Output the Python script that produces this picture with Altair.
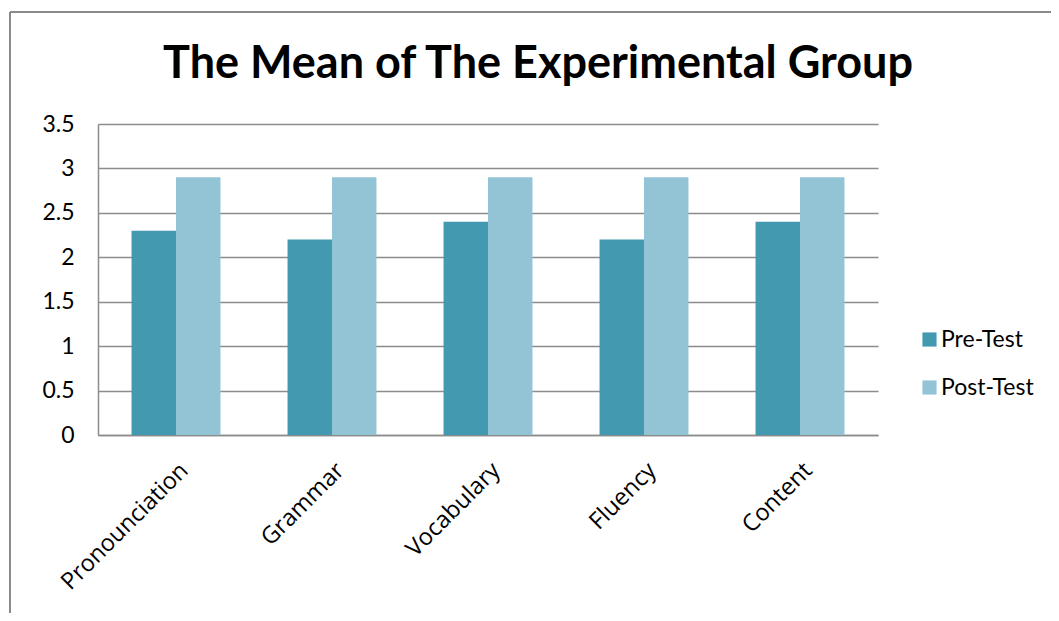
import altair as alt
import pandas as pd

categories = ["Pronounciation", "Grammar", "Vocabulary", "Fluency", "Content"]
pre_test = [2.3, 2.2, 2.4, 2.2, 2.4]
post_test = [2.9, 2.9, 2.9, 2.9, 2.9]
series = ["Pre-Test", "Post-Test"]
colors = ["#4399B0", "#93C4D5"]
title_text = ["The Mean of The Experimental Group"]

rows = []
for c, a, b in zip(categories, pre_test, post_test):
    rows.append({"category": c, "series": "Pre-Test", "value": a})
    rows.append({"category": c, "series": "Post-Test", "value": b})
df = pd.DataFrame(rows)
title_df = pd.DataFrame({"t": title_text})

FONT = "Lato"
GRID = "#8c8c8c"

bars = alt.Chart(df).mark_bar().encode(
    x=alt.X("category:N", sort=categories, title=None,
            scale=alt.Scale(paddingInner=0.43, paddingOuter=0.215),
            axis=alt.Axis(labelAngle=-45, labelFontSize=23.5, labelFont="Open Sans",
                          labelColor="#000000", ticks=False, domainColor=GRID,
                          domainWidth=1.5, labelPadding=23, labelLimit=300)),
    xOffset=alt.XOffset("series:N", sort=series),
    y=alt.Y("value:Q", title=None,
            scale=alt.Scale(domain=[0, 3.5], nice=False),
            axis=alt.Axis(values=[0, 0.5, 1, 1.5, 2, 2.5, 3, 3.5], format="~g",
                          labelFontSize=23, labelFont=FONT, labelColor="#000000",
                          ticks=False, labelPadding=24, domainColor=GRID,
                          domainWidth=1.5, grid=True, gridColor=GRID, gridWidth=1.5)),
    color=alt.Color("series:N", sort=series,
                    scale=alt.Scale(domain=series, range=colors),
                    legend=alt.Legend(title=None, orient="none", legendX=820, legendY=204,
                                      symbolType="square", symbolSize=200,
                                      symbolStrokeWidth=0, labelFontSize=23,
                                      labelFont=FONT, labelColor="#000000",
                                      rowPadding=24, labelOffset=0)),
)

title = alt.Chart(title_df).mark_text(
    font=FONT, fontSize=45, fontWeight="bold", color="#000000",
    align="center", baseline="alphabetic", clip=False,
).encode(text="t:N", x=alt.value(440), y=alt.value(-46))

frame_top = alt.Chart(df).mark_rule(color="#8a8a8a", strokeWidth=2, clip=False).encode(
    x=alt.value(-88), x2=alt.value(980), y=alt.value(-112))
frame_left = alt.Chart(df).mark_rule(color="#8a8a8a", strokeWidth=2, clip=False).encode(
    x=alt.value(-88), y=alt.value(-112), y2=alt.value(500))

chart = alt.layer(frame_top, frame_left, title, bars).properties(
    width=780, height=311,
    autosize="none",
    padding={"left": 90, "top": 116, "right": 173, "bottom": 178},
).configure_view(stroke=None)

chart.save("out.html", embed_options={"renderer": "svg", "actions": False})
